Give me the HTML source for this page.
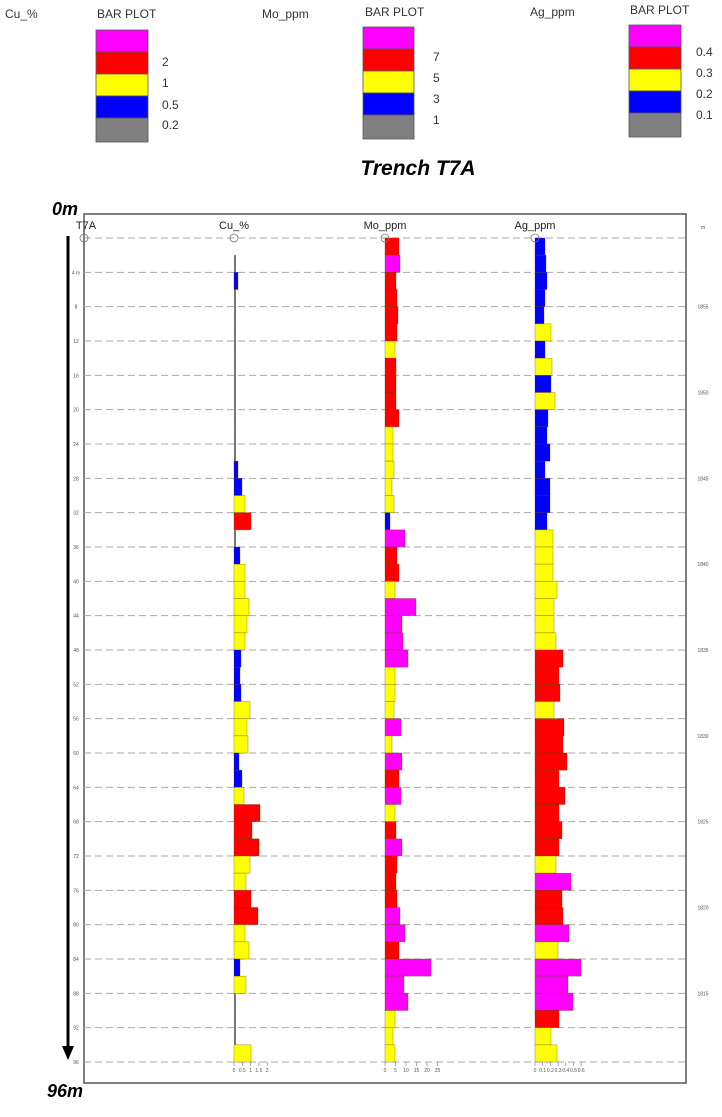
<!DOCTYPE html>
<html><head><meta charset="utf-8"><style>
html,body{margin:0;padding:0;background:#fff;}
svg{display:block;font-family:"Liberation Sans",sans-serif;}
</style></head><body>
<svg id="s" width="722" height="1117" viewBox="0 0 722 1117" xmlns="http://www.w3.org/2000/svg">
<rect width="722" height="1117" fill="#fff"/>
<!-- legends -->
<g font-size="12" fill="#333">
<text x="5" y="18">Cu_%</text><text x="97" y="18">BAR PLOT</text>
<text x="262" y="18">Mo_ppm</text><text x="365" y="16">BAR PLOT</text>
<text x="530" y="16">Ag_ppm</text><text x="630" y="14">BAR PLOT</text>
</g>
<g stroke="#555" stroke-width="0.8">
<rect x="96" y="30" width="52" height="22" fill="#f0f"/><rect x="96" y="52" width="52" height="22" fill="#f00"/><rect x="96" y="74" width="52" height="22" fill="#ff0"/><rect x="96" y="96" width="52" height="22" fill="#00f"/><rect x="96" y="118" width="52" height="24" fill="#808080"/>
<rect x="363" y="27" width="51" height="22" fill="#f0f"/><rect x="363" y="49" width="51" height="22" fill="#f00"/><rect x="363" y="71" width="51" height="22" fill="#ff0"/><rect x="363" y="93" width="51" height="22" fill="#00f"/><rect x="363" y="115" width="51" height="24" fill="#808080"/>
<rect x="629" y="25" width="52" height="22" fill="#f0f"/><rect x="629" y="47" width="52" height="22" fill="#f00"/><rect x="629" y="69" width="52" height="22" fill="#ff0"/><rect x="629" y="91" width="52" height="22" fill="#00f"/><rect x="629" y="113" width="52" height="24" fill="#808080"/>
</g>
<g font-size="12" fill="#333">
<text x="162" y="66">2</text><text x="162" y="87">1</text><text x="162" y="109">0.5</text><text x="162" y="129">0.2</text>
<text x="433" y="61">7</text><text x="433" y="82">5</text><text x="433" y="103">3</text><text x="433" y="124">1</text>
<text x="696" y="56">0.4</text><text x="696" y="77">0.3</text><text x="696" y="98">0.2</text><text x="696" y="119">0.1</text>
</g>
<text x="418" y="175" font-size="21" font-weight="bold" font-style="italic" text-anchor="middle" fill="#000">Trench T7A</text>
<!-- frame -->
<rect x="84" y="214" width="602" height="869" fill="none" stroke="#555" stroke-width="1.5"/>
<g font-size="11" fill="#222" text-anchor="middle">
<text x="86" y="229">T7A</text><text x="234" y="229">Cu_%</text><text x="385" y="229">Mo_ppm</text><text x="535" y="229">Ag_ppm</text>
</g>
<g id="grid"></g>
<g id="bars"></g>
<g fill="none" stroke="#777" stroke-width="0.8">
<circle cx="84" cy="238" r="4"/><circle cx="234" cy="238" r="4"/><circle cx="385" cy="238" r="4"/><circle cx="535" cy="238" r="4"/>
</g>
<!-- arrow -->
<line x1="68" y1="236" x2="68" y2="1048" stroke="#000" stroke-width="3"/>
<polygon points="62,1046 74,1046 68,1060" fill="#000"/>
<text x="52" y="215" font-size="18" font-weight="bold" font-style="italic">0m</text>
<text x="47" y="1097" font-size="18" font-weight="bold" font-style="italic">96m</text>
<g id="lbl" font-size="5" fill="#555"></g>
</svg>
<script>
var NS="http://www.w3.org/2000/svg";
function el(p,t,a,txt){var e=document.createElementNS(NS,t);for(var k in a)e.setAttribute(k,a[k]);if(txt!=null)e.textContent=txt;document.getElementById(p).appendChild(e);return e;}
var y0=238,pm=824/96;
for(var m=0;m<=96;m+=4){var y=y0+m*pm;
el("grid","line",{x1:84,x2:686,y1:y,y2:y,stroke:"#aaa","stroke-width":1,"stroke-dasharray":"7,4"});
if(m>0)el("lbl","text",{x:76,y:y+2,"text-anchor":"middle"},m==4?"4 m":String(m));}
var rl=["1855","1850","1845","1840","1835","1830","1825","1820","1815"];
for(var i=0;i<rl.length;i++){el("lbl","text",{x:703,y:y0+(8+10*i)*pm+2,"text-anchor":"middle"},rl[i]);}
el("lbl","text",{x:703,y:229,"text-anchor":"middle"},"m");
var C={m:"#f0f",r:"#f00",y:"#ff0",b:"#00f",g:"#808080"};
function draw(x0,data){for(var i=0;i<data.length;i++){var d=data[i];if(!d)continue;var c=d[0],w=d.slice(1)*1;
var y=y0+i*2*pm;
if(c=="g"){el("bars","rect",{x:x0,y:y,width:2,height:2*pm,fill:"#777"});}
else el("bars","rect",{x:x0,y:y,width:w,height:2*pm,fill:C[c],stroke:"rgba(90,60,0,0.5)","stroke-width":0.6});}}
var cu=[null,"g2","b4","g2","g2","g2","g2","g2","g2","g2","g2","g2","g2","b4","b8","y11","r17","g2","b6","y11","y11","y15","y13","y11","b7","b6","b7","y16","y13","y14","b5","b8","y10","r26","r18","r25","y16","y12","r17","r24","y11","y15","b6","y12","g2","g2","g2","y17"];
var mo=["r14","m15","r11","r12","r13","r12","y10","r11","r11","r11","r14","y8","y8","y9","y7","y9","b5","m20","r12","r14","y10","m31","m17","m18","m23","y10","y10","y9","m16","y7","m17","r14","m16","y10","r11","m17","r12","r11","r12","m15","m20","r14","m46","m19","m23","y10","y8","y10"];
var ag=["b10","b11","b12","b10","b9","y16","b10","y17","b16","y20","b13","b12","b15","b10","b15","b15","b12","y18","y18","y18","y22","y19","y19","y21","r28","r24","r25","y19","r29","r28","r32","r24","r30","r24","r27","r24","y21","m36","r27","r28","m34","y23","m46","m33","m38","r24","y16","y22"];
draw(234,cu);draw(385,mo);draw(535,ag);
// bottom ticks
function ticks(x0,step,labels){for(var i=0;i<labels.length;i++){var x=x0+i*step;
el("lbl","line",{x1:x,x2:x,y1:1062,y2:1066,stroke:"#777","stroke-width":0.6});
el("lbl","text",{x:x,y:1072,"text-anchor":"middle"},labels[i]);}}
ticks(234,8.3,["0","0.5","1","1.5","2"]);
ticks(385,10.5,["0","5","10","15","20","25"]);
ticks(535,7.7,["0","0.1","0.2","0.3","0.4","0.5","0.6"]);
</script>
</body></html>
